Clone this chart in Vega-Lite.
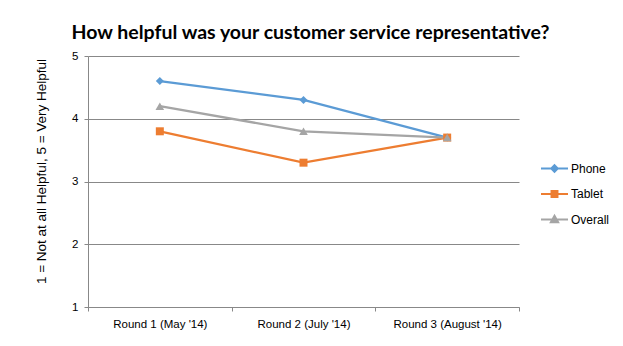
{
  "$schema": "https://vega.github.io/schema/vega-lite/v6.json",
  "autosize": {"type": "none"},
  "width": 431,
  "height": 251,
  "padding": {"left": 88, "top": 56, "right": 104, "bottom": 39},
  "background": "white",
  "title": {
    "text": "How helpful was your customer service representative?",
    "font": "Lato",
    "fontSize": 19.5,
    "fontWeight": "bold",
    "color": "#000000",
    "anchor": "middle",
    "frame": "group",
    "dx": 7,
    "dy": 25,
    "baseline": "alphabetic",
    "offset": 17
  },
  "data": {
    "values": [
      {"round": "Round 1 (May '14)", "series": "Phone", "value": 4.6},
      {"round": "Round 2 (July '14)", "series": "Phone", "value": 4.3},
      {"round": "Round 3 (August '14)", "series": "Phone", "value": 3.7},
      {"round": "Round 1 (May '14)", "series": "Tablet", "value": 3.8},
      {"round": "Round 2 (July '14)", "series": "Tablet", "value": 3.3},
      {"round": "Round 3 (August '14)", "series": "Tablet", "value": 3.7},
      {"round": "Round 1 (May '14)", "series": "Overall", "value": 4.2},
      {"round": "Round 2 (July '14)", "series": "Overall", "value": 3.8},
      {"round": "Round 3 (August '14)", "series": "Overall", "value": 3.7}
    ]
  },
  "encoding": {
    "x": {
      "field": "round",
      "type": "nominal",
      "sort": null,
      "bandPosition": 0.5,
      "scale": {"type": "band", "paddingInner": 0, "paddingOuter": 0},
      "axis": {
        "title": null,
        "labelAngle": 0,
        "labelFont": "Liberation Sans",
        "labelFontSize": 11.5,
        "labelColor": "#000000",
        "labelPadding": 7,
        "tickBand": "extent",
        "tickSize": 4,
        "tickColor": "#888888",
        "domainColor": "#888888",
        "grid": false
      }
    },
    "y": {
      "field": "value",
      "type": "quantitative",
      "scale": {"domain": [1, 5], "nice": false, "zero": false},
      "axis": {
        "title": "1 = Not at all Helpful, 5 = Very Helpful",
        "titleFont": "Liberation Sans",
        "titleFontSize": 13.5,
        "titleFontWeight": "normal",
        "titleColor": "#000000",
        "titlePadding": 23,
        "titleY": 115,
        "values": [1, 2, 3, 4, 5],
        "labelFont": "Liberation Sans",
        "labelFontSize": 11.5,
        "labelColor": "#000000",
        "labelPadding": 6,
        "tickSize": 4,
        "tickColor": "#888888",
        "domainColor": "#888888",
        "grid": true,
        "gridColor": "#888888",
        "gridOpacity": 1
      }
    }
  },
  "layer": [
    {
      "mark": {"type": "line", "strokeWidth": 2.25},
      "encoding": {
        "color": {
          "field": "series",
          "type": "nominal",
          "sort": ["Phone", "Tablet", "Overall"],
          "scale": {"domain": ["Phone", "Tablet", "Overall"], "range": ["#5B9BD5", "#ED7D31", "#A5A5A5"]},
          "legend": {
            "title": null,
            "orient": "none",
            "legendX": 452,
            "legendY": 98,
            "padding": 0,
            "rowPadding": 3.5,
            "labelFont": "Liberation Sans",
            "labelFontSize": 12,
            "labelColor": "#000000",
            "labelOffset": 2,
            "symbolSize": 729,
            "symbolStrokeWidth": 2,
            "encoding": {
              "symbols": {
                "shape": {"value": {"expr": "datum.value === 'Phone' ? 'M-1,0H1M0,-0.24L0.24,0L0,0.24L-0.24,0Z' : datum.value === 'Tablet' ? 'M-1,0H1M-0.22,-0.22H0.22V0.22H-0.22Z' : 'M-1,0H1M0,-0.28L0.27,0.2H-0.27Z'"}},
                "fill": {"value": {"expr": "scale('color', datum.value)"}},
                "stroke": {"value": {"expr": "scale('color', datum.value)"}},
                "strokeWidth": {"value": 2},
                "size": {"value": 729},
                "opacity": {"value": 1},
                "fillOpacity": {"value": 1},
                "strokeOpacity": {"value": 1}
              }
            }
          }
        }
      }
    },
    {
      "transform": [{"filter": "datum.series === 'Phone'"}],
      "mark": {"type": "point", "filled": true, "opacity": 1, "size": 64, "shape": "diamond", "color": "#5B9BD5"}
    },
    {
      "transform": [{"filter": "datum.series === 'Tablet'"}],
      "mark": {"type": "point", "filled": true, "opacity": 1, "size": 64, "shape": "square", "color": "#ED7D31"}
    },
    {
      "transform": [{"filter": "datum.series === 'Overall'"}],
      "mark": {"type": "point", "filled": true, "opacity": 1, "size": 75, "shape": "triangle-up", "color": "#A5A5A5"}
    }
  ],
  "config": {
    "view": {"stroke": null}
  }
}
